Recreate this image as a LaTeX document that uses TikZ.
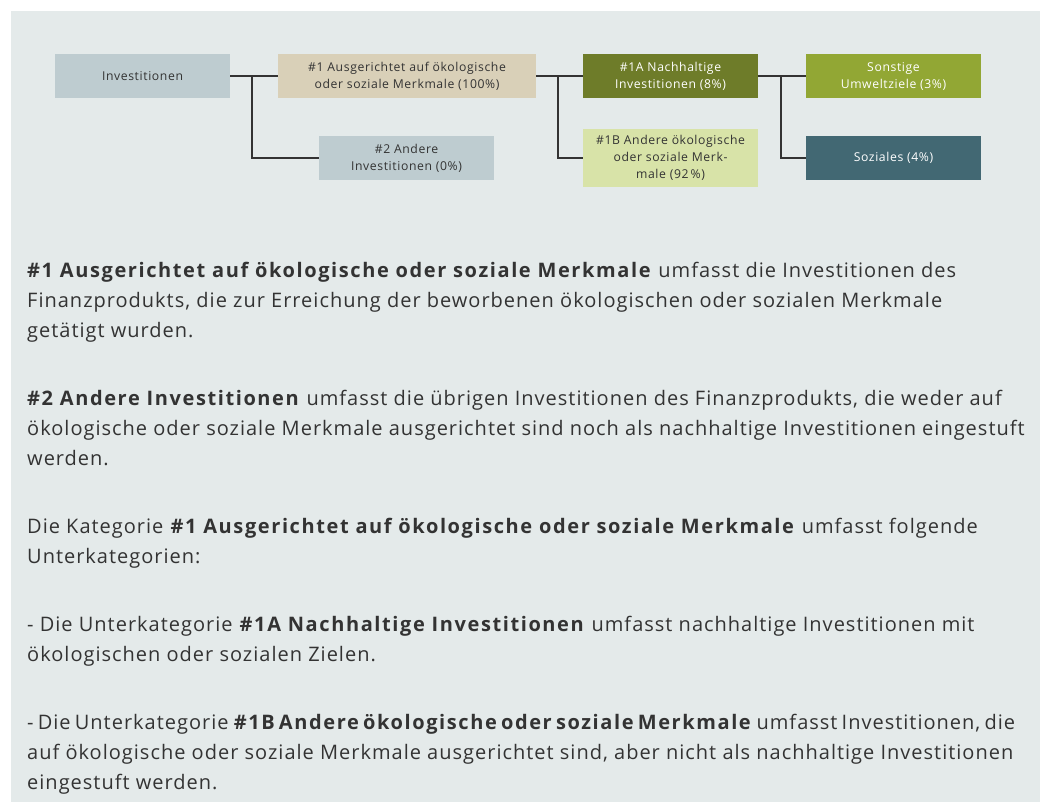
\documentclass[tikz,border=0pt]{standalone}
\usepackage{fontspec}
\setmainfont{Open Sans}[LetterSpace=5,BoldFeatures={LetterSpace=8}]
\definecolor{bggrey}{RGB}{228,234,234}
\definecolor{invgrey}{RGB}{190,204,208}
\definecolor{beige}{RGB}{217,208,184}
\definecolor{olive}{RGB}{110,124,41}
\definecolor{lime}{RGB}{146,167,52}
\definecolor{palelime}{RGB}{216,227,168}
\definecolor{petrol}{RGB}{66,104,115}
\definecolor{ink}{RGB}{51,51,51}

\begin{document}
\begin{tikzpicture}[x=1pt,y=-1pt,
  box/.style={minimum width=175pt,minimum height=44pt,inner sep=0pt,align=center,
    font=\fontsize{12.2}{17}\selectfont,text=ink},
  conn/.style={line width=1.3pt,ink},
  para/.style={anchor=base west,align=left,inner sep=0pt,
    font=\fontsize{20}{30}\selectfont,text=ink}]
\useasboundingbox (0,0) rectangle (1040,802);
\fill[bggrey] (11,11) rectangle (1040,802);

\node[box,fill=invgrey] (inv) at (142.5,76) {Investitionen};
\node[box,fill=beige,minimum width=258pt] (cat1) at (407,76) {\#1 Ausgerichtet auf ökologische\\oder soziale Merkmale (100\%)};
\node[box,fill=invgrey] (cat2) at (406.5,158) {\#2 Andere\\Investitionen (0\%)};
\node[box,fill=olive,text=white] (cat1A) at (670.5,76) {\#1A Nachhaltige\\Investitionen (8\%)};
\node[box,fill=palelime,minimum height=58pt] (cat1B) at (670.5,158) {\#1B Andere ökologische\\oder soziale Merk-\\male (92\,\%)};
\node[box,fill=lime,text=white] (env) at (893.5,76) {Sonstige\\Umweltziele (3\%)};
\node[box,fill=petrol,text=white] (soc) at (893.5,158) {Soziales (4\%)};

\coordinate (j1) at (252,76);
\coordinate (j2) at (558,76);
\coordinate (j3) at (781,76);

\draw[conn] (inv) -- (cat1);
\draw[conn] (j1) |- (cat2);
\draw[conn] (cat1) -- (cat1A);
\draw[conn] (j2) |- (cat1B);
\draw[conn] (cat1A) -- (env);
\draw[conn] (j3) |- (soc);

\node[para] (p1) at (27,337) {\textbf{\#1 Ausgerichtet auf ökologische oder soziale Merkmale} umfasst die Investitionen des\\Finanzprodukts, die zur Erreichung der beworbenen ökologischen oder sozialen Merkmale\\getätigt wurden.};
\node[para] (p2) at (27,465) {\textbf{\#2 Andere Investitionen} umfasst die übrigen Investitionen des Finanzprodukts, die weder auf\\ökologische oder soziale Merkmale ausgerichtet sind noch als nachhaltige Investitionen eingestuft\\werden.};
\node[para] (p3) at (27,563) {Die Kategorie \textbf{\#1 Ausgerichtet auf ökologische oder soziale Merkmale} umfasst folgende\\Unterkategorien:};
\node[para] (p4) at (27,661) {- Die Unterkategorie \textbf{\#1A Nachhaltige Investitionen} umfasst nachhaltige Investitionen mit\\ökologischen oder sozialen Zielen.};
\node[para] (p5) at (27,789) {\spaceskip=4.2pt\relax - Die Unterkategorie \textbf{\#1B Andere ökologische oder soziale Merkmale} umfasst Investitionen, die\\auf ökologische oder soziale Merkmale ausgerichtet sind, aber nicht als nachhaltige Investitionen\\eingestuft werden.};
\end{tikzpicture}
\end{document}
